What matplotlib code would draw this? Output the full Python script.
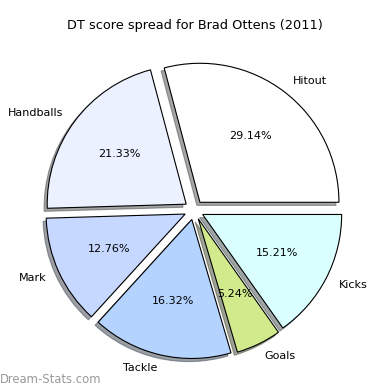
import matplotlib
matplotlib.use('Agg')
import matplotlib.pyplot as plt

# DT score components
labels = ['Hitout', 'Handballs', 'Mark', 'Tackle', 'Goals', 'Kicks']
shares = [29.14, 21.33, 12.76, 16.32, 5.24, 15.21]
colors = ['#ffffff', '#ebf1ff', '#c6d8ff', '#b4d4ff', '#d1ea8c', '#daffff']
explode = [0.07] * len(labels)

fig = plt.figure(figsize=(3.9, 3.9), dpi=100)
# pie radius ~139px, centre ~(194, 210) from top-left
ax = fig.add_axes([0.0341, -0.0018, 0.9267, 0.9267])
ax.pie(shares, labels=labels, colors=colors, explode=explode,
       autopct='%1.2f%%', shadow={'ox': -0.016, 'oy': -0.016},
       startangle=0,
       wedgeprops={'edgecolor': 'black', 'linewidth': 0.8},
       textprops={'fontsize': 8})
ax.set_xlim(-1.3, 1.3)
ax.set_ylim(-1.3, 1.3)
ax.set_aspect('equal')
fig.text(0.5, 0.935, 'DT score spread for Brad Ottens (2011)',
         ha='center', va='center', fontsize=9.3)
fig.text(0.0, 0.026, 'Dream-Stats.com', ha='left', va='center',
         fontsize=8.4, color='#999999')
fig.savefig('out.png', dpi=100)
